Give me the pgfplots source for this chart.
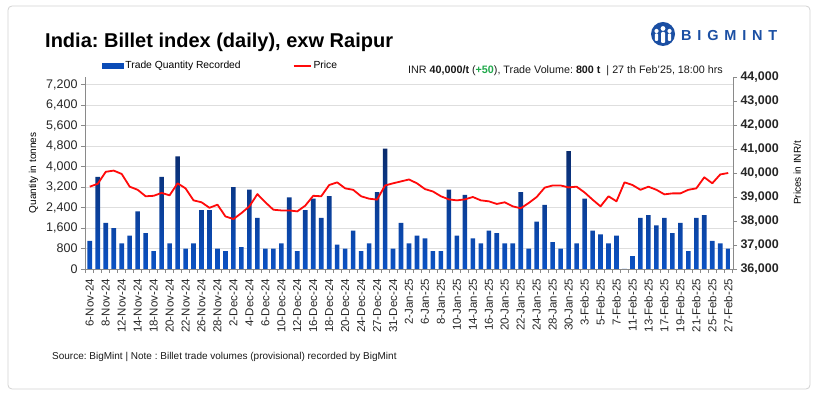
\documentclass[border=0pt]{standalone}
\usepackage{pgfplots}
\pgfplotsset{compat=1.18}
\usepackage{pgfplotstable}
\usepackage{fontspec}
\setmainfont{Liberation Sans}
\frenchspacing
\definecolor{bartop}{HTML}{0A2B6C}
\definecolor{barbot}{HTML}{0B52C4}
\definecolor{pricered}{HTML}{FF0A0A}
\definecolor{gridgray}{HTML}{DEDEDE}
\definecolor{axisgray}{HTML}{8A8A8A}
\definecolor{logoblue}{HTML}{1B4FA3}
\definecolor{upgreen}{HTML}{1FA84A}

\pgfplotstableread{
idx qty price
0 1100 39430
1 3600 39550
2 1800 40050
3 1600 40100
4 1000 39960
5 1300 39430
6 2250 39300
7 1400 39030
8 700 39050
9 3600 39170
10 1000 39070
11 4400 39570
12 800 39360
13 1000 38860
14 2300 38780
15 2300 38550
16 800 38680
17 700 38190
18 3200 38080
19 850 38330
20 3100 38610
21 2000 39120
22 800 38780
23 800 38470
24 1000 38440
25 2800 38440
26 700 38400
27 2300 38640
28 2750 39050
29 2000 39030
30 2850 39500
31 950 39610
32 800 39360
33 1500 39300
34 700 39030
35 1000 38930
36 3000 38890
37 4700 39480
38 800 39570
39 1800 39650
40 1000 39730
41 1300 39570
42 1200 39330
43 700 39230
44 700 39030
45 3100 38900
46 1300 38860
47 2900 38900
48 1200 39000
49 1000 38860
50 1500 38820
51 1400 38710
52 1000 38780
53 1000 38610
54 3000 38530
55 800 38750
56 1850 39000
57 2500 39390
58 1050 39480
59 800 39480
60 4600 39400
61 1000 39430
62 2750 39190
63 1500 38890
64 1350 38610
65 1000 39030
66 1300 38820
67 0 39610
68 500 39500
69 2000 39300
70 2100 39430
71 1700 39300
72 2000 39110
73 1400 39150
74 1800 39150
75 700 39300
76 2000 39360
77 2100 39820
78 1100 39570
79 1000 39940
80 800 40000
}\datatable

\pgfplotsset{base/.style={
  scale only axis, width=648pt, height=192pt,
  xmin=-0.6, xmax=80.6,
  tick align=outside,
  /pgf/number format/1000 sep={,},
  /pgf/number format/assume math mode=true,
  axis line style={draw=axisgray, line width=0.8pt, -},
  major tick length=4pt,
}}

\begin{document}
\begin{tikzpicture}
\begin{axis}[base, name=ax,
  ymin=0, ymax=7500,
  ytick={0,800,...,7200},
  axis x line*=bottom, axis y line*=left,
  ymajorgrids, grid style={gridgray, line width=0.8pt},
  xtick={0,2,...,80},
  xticklabels={6-Nov-24,8-Nov-24,12-Nov-24,14-Nov-24,18-Nov-24,20-Nov-24,22-Nov-24,26-Nov-24,28-Nov-24,2-Dec-24,4-Dec-24,6-Dec-24,10-Dec-24,12-Dec-24,16-Dec-24,18-Dec-24,20-Dec-24,24-Dec-24,27-Dec-24,31-Dec-24,2-Jan-25,6-Jan-25,8-Jan-25,10-Jan-25,14-Jan-25,16-Jan-25,20-Jan-25,22-Jan-25,24-Jan-25,28-Jan-25,30-Jan-25,3-Feb-25,5-Feb-25,7-Feb-25,11-Feb-25,13-Feb-25,17-Feb-25,19-Feb-25,21-Feb-25,25-Feb-25,27-Feb-25},
  minor xtick={-0.5,0.5,...,80.5},
  major x tick style={draw=none},
  minor x tick style={draw=axisgray, line width=0.8pt},
  minor tick length=4pt,
  ytick style={draw=axisgray, line width=0.8pt},
  xticklabel shift=5pt,
  xticklabel style={rotate=90, anchor=east, font=\fontsize{11.5}{12}\selectfont, text=black!85, inner sep=1pt},
  yticklabel style={font=\fontsize{12.5}{12.5}\selectfont, text=black!85},
  ylabel={Quantity in tonnes},
  ylabel shift=1pt,
  ylabel style={font=\fontsize{10}{12}\selectfont},
  legend style={at={(0.026,1.058)}, anchor=west, draw=none, fill=none,
    font=\fontsize{10.3}{12}\selectfont, inner sep=0pt,
    /tikz/every even column/.append style={column sep=50pt}},
  legend columns=2, legend cell align=left,
]
\addplot[ybar, bar width=4.6pt, draw=none, top color=bartop, bottom color=barbot, forget plot] table[x=idx,y=qty]{\datatable};
\addlegendimage{legend image code/.code={\fill[barbot!85!bartop] (0pt,-2.6pt) rectangle (21pt,2.6pt);}}
\addlegendentry{Trade Quantity Recorded}
\addlegendimage{line legend, pricered, line width=1.8pt, no marks}
\addlegendentry{Price}
\end{axis}

\begin{axis}[base,
  ymin=36000, ymax=44000,
  ytick={36000,37000,...,44000},
  scaled y ticks=false,
  axis y line*=right, axis x line=none,
  ytick style={draw=axisgray, line width=0.8pt},
  yticklabel style={font=\fontsize{12.5}{12.5}\selectfont\bfseries, text=black!85},
  ylabel={Prices in INR/t},
  ylabel shift=8pt,
  ylabel style={font=\fontsize{10}{12}\selectfont},
]
\addplot[pricered, line width=1.8pt, line join=round, no marks] table[x=idx,y=price]{\datatable};
\end{axis}

\begin{scope}[shift={(ax.south west)}, x=1pt, y=1pt, shift={(-85,-126)}]
\path (0,0) rectangle (819,395);
\draw[gray!35, line width=0.8pt, rounded corners=4pt] (8,6) rectangle (810,389);

\node[anchor=base west, inner sep=0, font=\fontsize{20}{24}\selectfont\bfseries] at (45,347) {India: Billet index (daily), exw Raipur};

% logo
\fill[logoblue] (663,361) circle (12);
\fill[white] (663,366.5) circle (2.4);
\fill[white] (656.5,364) circle (2.1);
\fill[white] (669.5,364) circle (2.1);
\fill[white, rounded corners=1pt] (661,352) rectangle (665,363);
\fill[white, rounded corners=1pt] (654.8,354) rectangle (658.2,361.5);
\fill[white, rounded corners=1pt] (667.8,354) rectangle (671.2,361.5);
\node[anchor=base west, inner sep=0, text=logoblue, font=\fontsize{14.5}{16}\selectfont\bfseries] at (681,354) {B\kern5.8pt I\kern5.8pt G\kern5.8pt M\kern5.8pt I\kern5.8pt N\kern5.8pt T};

\node[anchor=base west, inner sep=0, font=\fontsize{10.75}{12}\selectfont, text=black!90] at (408,321) {INR \textbf{40,000/t} ({\color{upgreen}\textbf{+50}}), Trade Volume: \textbf{800 t} \ | 27 th Feb'25, 18:00 hrs};

\node[anchor=base west, inner sep=0, font=\fontsize{10}{12}\selectfont, text=black!90] at (52,35) {Source: BigMint | Note : Billet trade volumes (provisional) recorded by BigMint};
\end{scope}
\end{tikzpicture}
\end{document}
